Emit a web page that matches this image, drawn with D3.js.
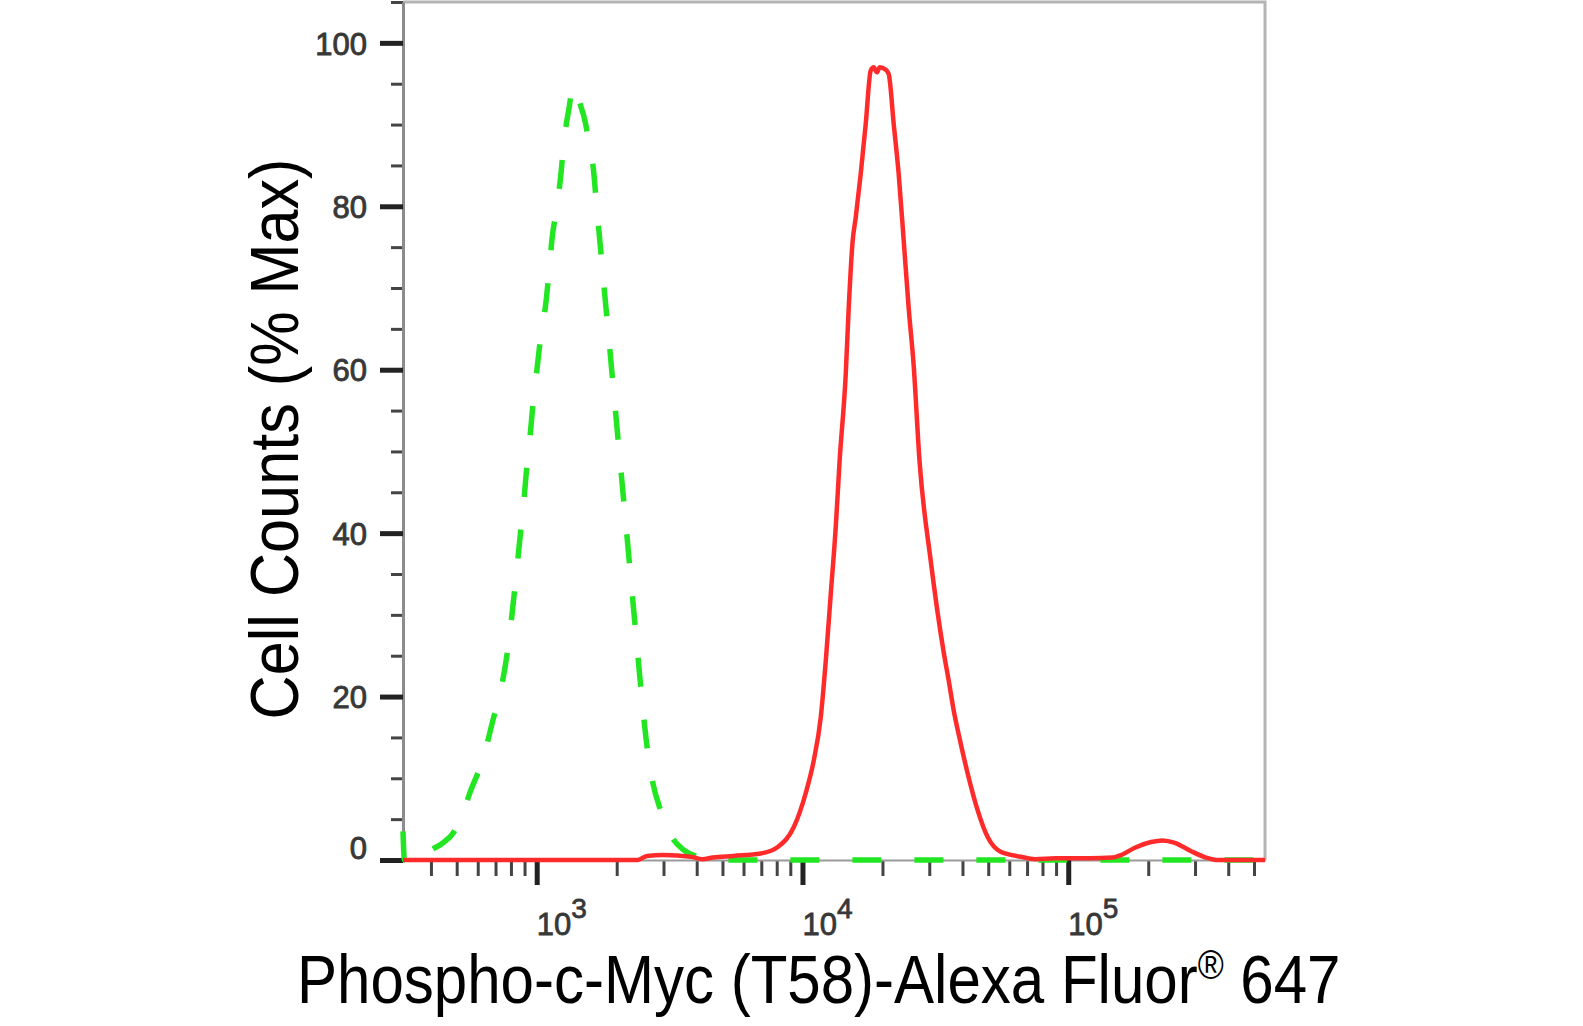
<!DOCTYPE html>
<html>
<head>
<meta charset="utf-8">
<script src="https://cdn.jsdelivr.net/npm/d3@7"></script>
<style>
    body { margin: 0; background: #fff; }
    svg text { font-family: "Liberation Sans", Arial, Helvetica, sans-serif; }
</style>
</head>
<body>
<div id="chart"></div>
<script>

// isotype control (green dashed)
const controlIntensity = [314, 318, 370, 390, 440, 485, 530, 563, 630, 683, 735, 776, 807, 838, 869, 895, 919, 948, 973, 1002,
    1035, 1081, 1113, 1142, 1192, 1234, 1267, 1320, 1375, 1440, 1530, 1590, 1628, 1681, 1737, 1794, 1854, 1915, 1978, 2043,
    2111, 2181, 2252, 2326, 2403, 2483, 2576, 2713, 2931, 3198, 3581, 4150, 4500, 550000];
const controlCounts = [3.5, 0, 0, 0.9, 2.0, 3.3, 6.0, 8.4, 12.5, 17.0, 21.0, 25.5, 30.0, 35.0, 40.0, 44.0, 48.3, 52.5, 56.5, 60.0,
    64.0, 68.0, 72.0, 76.0, 80.0, 84.0, 88.0, 91.8, 94.8, 93.0, 90.0, 86.5, 85.0, 80.0, 75.0, 70.0, 65.0, 60.0, 55.0, 50.0,
    45.0, 40.0, 35.0, 30.0, 25.0, 20.0, 15.0, 10.0, 6.0, 3.0, 1.2, 0.3, 0, 0];

// Phospho-c-Myc (T58) stained (red solid)
const stainedIntensity = [314, 2400, 2600, 3000, 3800, 4200, 4600, 5500, 6968, 8075, 9270, 10290, 11030, 11720, 12240,
    12780, 13340, 13800, 14550, 14930, 15450, 15860, 16570, 17300, 18060, 18540, 19050, 19530, 20570, 21110, 22040, 23010,
    24040, 25090, 26210, 27560, 30360, 33960, 35480, 37070, 39370, 42200, 45600, 49750, 55670, 66200, 75000,
    90000, 120000, 147000, 158000, 178000, 205000, 226000, 252000, 289000, 330000, 367000, 550000];
const stainedCounts = [0, 0, 0.5, 0.6, 0.4, 0.1, 0.3, 0.5, 0.8, 1.6, 4.0, 8.2, 12.2, 17.5, 24.4,
    32.6, 40.7, 48.9, 59.5, 67.6, 75.8, 78.6, 84.0, 90.1, 96.6, 97.0, 96.4, 97.0, 96.7, 96.2, 90.1, 84.0,
    75.8, 67.6, 60.5, 48.9, 36.7, 25.5, 22.0, 18.3, 14.3, 10.1, 6.1, 2.8, 1.0, 0.4, 0.1,
    0.2, 0.2, 0.3, 0.6, 1.5, 2.2, 2.4, 2.1, 1.1, 0.3, 0, 0];

const yMajorTicks = [0, 20, 40, 60, 80, 100];
const yMinorTicks = [5, 10, 15, 25, 30, 35, 45, 50, 55, 65, 70, 75, 85, 90, 95, 105];
const xMajorTicks = [1e3, 1e4, 1e5];
const xMajorExponents = ["3", "4", "5"];
const xMinorTicks = [400, 500, 600, 700, 800, 900, 2000, 3000, 4000, 5000, 6000, 7000, 8000, 9000,
    20000, 30000, 40000, 50000, 60000, 70000, 80000, 90000, 200000, 300000, 400000, 500000];

const yTitle = "Cell Counts (% Max)";
const xTitleMain = "Phospho-c-Myc (T58)-Alexa Fluor";
const xTitleMark = "\u00AE";
const xTitleEnd = " 647";


class HistogramVis {
    constructor(parentElement) {
        this.parentElement = parentElement;
        this.initVis();
    }

    initVis() {
        let vis = this;

        vis.margin = {top: 2, right: 318, bottom: 166, left: 403};
        vis.width = 1583 - vis.margin.left - vis.margin.right;
        vis.height = 1026 - vis.margin.top - vis.margin.bottom;

        vis.root = d3.select("#" + vis.parentElement)
            .append("svg")
            .attr("width", 1583)
            .attr("height", 1026);

        vis.svg = vis.root.append("g")
            .attr("transform", "translate(" + vis.margin.left + "," + vis.margin.top + ")");

        vis.x = d3.scaleLog()
            .domain([314, 550000])
            .range([0, vis.width]);

        vis.y = d3.scaleLinear()
            .domain([0, 105])
            .range([vis.height, 0]);

        // frame (top + right)
        vis.svg.append("path")
            .attr("d", "M0,0H" + vis.width + "V" + vis.height)
            .attr("fill", "none")
            .attr("stroke", "#b4b4b4")
            .attr("stroke-width", 3);

        // y axis, minor then major
        vis.svg.append("g")
            .attr("class", "y-minor")
            .call(d3.axisLeft(vis.y).tickValues(yMinorTicks).tickSize(12).tickSizeOuter(0).tickFormat(""))
            .call(g => g.select(".domain").remove())
            .call(g => g.selectAll("line").attr("stroke", "#444").attr("stroke-width", 3));

        vis.svg.append("g")
            .attr("class", "y-major")
            .call(d3.axisLeft(vis.y).tickValues(yMajorTicks).tickSize(23).tickSizeOuter(0).tickPadding(13))
            .call(g => g.select(".domain").attr("stroke", "#8c8c8c").attr("stroke-width", 3))
            .call(g => g.selectAll("line").attr("stroke", "#222").attr("stroke-width", 5))
            .call(g => g.selectAll("text")
                .attr("font-size", 31)
                .attr("fill", "#383838")
                .attr("stroke", "#383838")
                .attr("stroke-width", 0.9)
                .attr("font-family", null)
                .attr("dy", d => d === 0 ? "-0.05em" : "0.36em"));

        // x axis, minor then major
        vis.svg.append("g")
            .attr("class", "x-minor")
            .attr("transform", "translate(0," + vis.height + ")")
            .call(d3.axisBottom(vis.x).tickValues(xMinorTicks).tickSize(16).tickSizeOuter(0).tickFormat(""))
            .call(g => g.select(".domain").remove())
            .call(g => g.selectAll("line").attr("stroke", "#444").attr("stroke-width", 3));

        vis.svg.append("g")
            .attr("class", "x-major")
            .attr("transform", "translate(0," + vis.height + ")")
            .call(d3.axisBottom(vis.x).tickValues(xMajorTicks).tickSize(25).tickSizeOuter(0).tickFormat(""))
            .call(g => g.select(".domain").attr("stroke", "#9a9a9a").attr("stroke-width", 2))
            .call(g => g.selectAll("line").attr("stroke", "#222").attr("stroke-width", 5));

        let xLabels = vis.svg.append("g")
            .attr("class", "x-labels")
            .selectAll("text")
            .data(xMajorTicks)
            .enter().append("text")
            .attr("x", d => vis.x(d))
            .attr("y", vis.height + 75)
            .attr("font-size", 31)
            .attr("fill", "#383838")
            .attr("stroke", "#383838")
            .attr("stroke-width", 0.8);
        xLabels.append("tspan").text("10");
        xLabels.append("tspan")
            .attr("dy", -17)
            .attr("font-size", 28)
            .text((d, i) => xMajorExponents[i]);

        // axis titles
        vis.root.append("g")
            .attr("transform", "translate(298,439) rotate(-90) scale(0.9,1)")
            .append("text")
            .attr("text-anchor", "middle")
            .attr("font-size", 68)
            .attr("fill", "#000")
            .text(yTitle);

        let xt = vis.root.append("g")
            .attr("transform", "translate(297,1003) scale(0.883,1)")
            .append("text")
            .attr("font-size", 68)
            .attr("fill", "#000");
        xt.append("tspan").text(xTitleMain);
        xt.append("tspan").attr("font-size", 40).attr("dy", -24).text(xTitleMark);
        xt.append("tspan").attr("dy", 24).text(xTitleEnd);

        vis.line = d3.line()
            .x(d => vis.x(d.x))
            .y(d => vis.y(d.y))
            .curve(d3.curveMonotoneX);

        vis.control = controlIntensity.map((v, i) => ({x: v, y: controlCounts[i]}));
        vis.stained = stainedIntensity.map((v, i) => ({x: v, y: stainedCounts[i]}));

        vis.updateVis();
    }

    updateVis() {
        let vis = this;

        vis.svg.append("path")
            .datum(vis.control)
            .attr("class", "control")
            .attr("fill", "none")
            .attr("stroke", "#22e622")
            .attr("stroke-width", 5.5)
            .attr("stroke-dasharray", "29 33")
            .attr("d", vis.line);

        vis.svg.append("path")
            .datum(vis.stained)
            .attr("class", "stained")
            .attr("fill", "none")
            .attr("stroke", "#ff2b2b")
            .attr("stroke-width", 4.5)
            .attr("stroke-linejoin", "round")
            .attr("d", vis.line);
    }
}

new HistogramVis("chart");

</script>
</body>
</html>
